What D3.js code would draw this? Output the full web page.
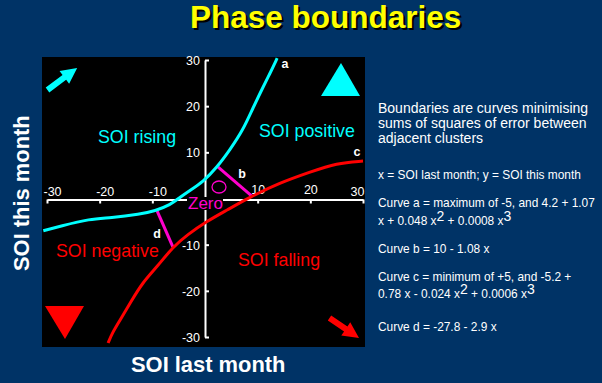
<!DOCTYPE html>
<html>
<head>
<meta charset="utf-8">
<script src="https://d3js.org/d3.v7.min.js"></script>
<style>
    html, body { margin: 0; padding: 0; background: #003366; overflow: hidden; }
    text { font-family: "Liberation Sans", Arial, sans-serif; }
    .tick-label { fill: #fff; font-size: 12.5px; }
    .note { fill: #fff; font-size: 11.9px; }
    .note-big { fill: #fff; font-size: 14px; }
    .axis-title { fill: #fff; font-size: 21.9px; font-weight: bold; }
    .region { font-size: 17.8px; }
    .curve-name { fill: #fff; font-size: 12.5px; font-weight: bold; }
</style>
</head>
<body>
<div id="chart"></div>
<script>
// boundary curves, [SOI last month, SOI this month]
const curveA = [[-30.7, -7], [-27.5, -6], [-21.8, -4.4], [-18, -4.2], [-12.3, -3.4], [-9.5, -2.7],
    [-6.6, -1.4], [-4.7, 0.3], [-2.8, 1.8], [-0.4, 3.6], [2.3, 6.8], [4.7, 10.5], [7.2, 14.8],
    [9.1, 19.6], [11, 24.1], [12.3, 27], [13.7, 30.4]];
const curveB = [[2.5, 6.8], [8.9, 0.5]];
const curveC = [[-18.4, -31.3], [-17.6, -29.1], [-16.1, -26.3], [-14.2, -22.6], [-11.8, -18.1],
    [-9.1, -14.8], [-6.1, -10.5], [-3.4, -7.9], [0.4, -4.9], [4.2, -2.5], [8.5, 0.3],
    [14.2, 3.4], [19.9, 5.7], [25, 7.7], [30, 8.1]];
const curveD = [[-9.1, -2.7], [-6.1, -10.5]];

const xTicks = [-30, -20, -10, 10, 20, 30];
const yTicks = [30, 20, 10, -10, -20, -30];

const noteLines = [
    "Boundaries are curves minimising",
    "sums of squares of error between",
    "adjacent clusters",
    "x = SOI last month; y = SOI this month",
    "Curve a = maximum of -5, and 4.2 + 1.07",
    "x + 0.048 x|2| + 0.0008 x|3",
    "Curve b = 10 - 1.08 x",
    "Curve c = minimum of +5, and -5.2 +",
    "0.78 x - 0.024 x|2| + 0.0006 x|3",
    "Curve d = -27.8 - 2.9 x"
];
const noteBaselines = [113, 128, 143, 179, 207, 225, 253, 281, 298, 331];

const svg = d3.select("#chart").append("svg")
    .attr("width", 602)
    .attr("height", 383)
    .style("display", "block");

// black plot panel
svg.append("rect")
    .attr("x", 42).attr("y", 57)
    .attr("width", 323).attr("height", 290)
    .attr("fill", "#000");

// scales
const x = d3.scaleLinear().domain([-30, 30]).range([47, 363]);
const y = d3.scaleLinear().domain([-30, 30]).range([337, 60]);

// x axis, labels sit above the line
const xAxis = svg.append("g")
    .attr("transform", `translate(0,${y(0) + 1})`)
    .call(d3.axisBottom(x).tickValues(xTicks).tickSize(4).tickSizeOuter(0).tickFormat(String));
xAxis.select(".domain").attr("stroke", "#fff").attr("stroke-width", 2);
xAxis.selectAll("line").attr("stroke", "#fff").attr("stroke-width", 2);
xAxis.selectAll("text")
    .attr("class", "tick-label")
    .attr("text-anchor", "middle")
    .attr("y", d => (d === 10 || d === 20) ? -6 : -4).attr("dy", 0)
    .attr("dx", d => d < 0 ? 5 : (d === 30 ? -6 : 0));

// y axis, ticks point right and labels left
const yAxis = svg.append("g")
    .attr("transform", `translate(${x(0)},0)`)
    .call(d3.axisRight(y).tickValues(yTicks).tickSize(4).tickSizeOuter(0).tickFormat(String));
yAxis.select(".domain").attr("stroke", "#fff").attr("stroke-width", 2);
yAxis.selectAll("line").attr("stroke", "#fff").attr("stroke-width", 2);
yAxis.selectAll("text")
    .attr("class", "tick-label")
    .attr("text-anchor", "end")
    .attr("x", -5).attr("dy", "0.36em");

// black box behind the Zero label cuts the axes
svg.append("rect")
    .attr("x", 187).attr("y", 197)
    .attr("width", 36).attr("height", 13)
    .attr("fill", "#000");

// curves
const line = d3.line().x(d => x(d[0])).y(d => y(d[1]));
const smooth = d3.line().x(d => x(d[0])).y(d => y(d[1])).curve(d3.curveBasis);

svg.append("path").datum(curveB).attr("d", line)
    .attr("fill", "none").attr("stroke", "#ff00cc").attr("stroke-width", 3);
svg.append("path").datum(curveD).attr("d", line)
    .attr("fill", "none").attr("stroke", "#ff00cc").attr("stroke-width", 3);
svg.append("path").datum(curveA).attr("d", smooth)
    .attr("fill", "none").attr("stroke", "#00ffff").attr("stroke-width", 3);
svg.append("path").datum(curveC).attr("d", smooth)
    .attr("fill", "none").attr("stroke", "#ff0000").attr("stroke-width", 3);

// the zero cluster
svg.append("ellipse")
    .attr("cx", 219).attr("cy", 187).attr("rx", 7).attr("ry", 6)
    .attr("fill", "none").attr("stroke", "#ff00cc").attr("stroke-width", 1.3);
svg.append("text").attr("x", 188).attr("y", 209).text("Zero")
    .attr("fill", "#ff00cc").attr("font-size", "17px");

// region labels
const addRegion = (px, py, label, color) => svg.append("text")
    .attr("class", "region").attr("x", px).attr("y", py).attr("fill", color).text(label);
addRegion(98, 143, "SOI rising", "#00ffff");
addRegion(259, 137, "SOI positive", "#00ffff");
addRegion(56, 257, "SOI negative", "#ff0000");
addRegion(238, 266, "SOI falling", "#ff0000");

// curve letters
const addName = (px, py, label) => svg.append("text")
    .attr("class", "curve-name").attr("x", px).attr("y", py).attr("text-anchor", "middle").text(label);
addName(285, 68, "a");
addName(242, 178, "b");
addName(357, 156, "c");
addName(157, 238, "d");

// corner triangles
const triangle = d3.line();
svg.append("path").attr("d", triangle([[341, 63], [360, 96], [321, 96]]) + "Z").attr("fill", "#00ffff");
svg.append("path").attr("d", triangle([[45, 306], [84, 306], [65, 339]]) + "Z").attr("fill", "#ff0000");

// corner arrows, drawn pointing right then rotated
function addArrow(tx, ty, angle, len, color) {
    svg.append("path")
        .attr("transform", `translate(${tx},${ty}) rotate(${angle})`)
        .attr("d", triangle([[0, -3], [len - 16, -3], [len - 16, -8], [len, 0], [len - 16, 8], [len - 16, 3], [0, 3]]) + "Z")
        .attr("fill", color);
}
addArrow(47.5, 90, -36.7, 37, "#00ffff");
addArrow(329.5, 318, 34, 35.6, "#ff0000");

// titles, the yellow one has a black drop shadow
const titleText = "Phase boundaries";
svg.append("text").attr("x", 192).attr("y", 30)
    .attr("fill", "#000").attr("font-size", "31.5px").attr("font-weight", "bold")
    .text(titleText);
svg.append("text").attr("x", 190).attr("y", 28)
    .attr("fill", "#ffff00").attr("font-size", "31.5px").attr("font-weight", "bold")
    .text(titleText);
svg.append("text").attr("class", "axis-title")
    .attr("x", 131).attr("y", 372).text("SOI last month");
svg.append("text").attr("class", "axis-title")
    .attr("transform", "translate(29,271) rotate(-90)").text("SOI this month");

// right hand notes, pieces between | are superscripts
noteLines.forEach((txt, i) => {
    const t = svg.append("text")
        .attr("class", i < 3 ? "note-big" : "note")
        .attr("x", 378).attr("y", noteBaselines[i]);
    let lift = 0;
    txt.split("|").forEach(piece => {
        const sup = piece === "2" || piece === "3";
        t.append("tspan")
            .attr("font-size", sup ? "14px" : null)
            .attr("dy", (sup ? -4 : 0) - lift)
            .text(piece);
        lift = sup ? -4 : 0;
    });
});
</script>
</body>
</html>
